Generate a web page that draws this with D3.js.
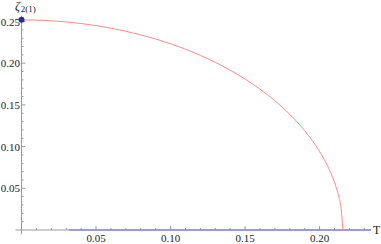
<!DOCTYPE html>
<html>
<head>
<meta charset="utf-8">
<script src="https://cdn.jsdelivr.net/npm/d3@7"></script>
<style>
  body { margin: 0; background: #fff; }
  text { font-family: "Liberation Serif", "DejaVu Serif", serif; }
</style>
</head>
<body>
<svg id="chart" width="381" height="244"></svg>
<script>
// values
var tVals    = [0, 0.02, 0.04, 0.06, 0.08, 0.10, 0.12, 0.14, 0.16, 0.17, 0.18, 0.19, 0.20, 0.205, 0.21, 0.213, 0.2145, 0.2156];
var zetaVals = [0.252, 0.2509, 0.2476, 0.2420, 0.2340, 0.2233, 0.2094, 0.1916, 0.1689, 0.1550, 0.1387, 0.1191, 0.0941, 0.0780, 0.0571, 0.0390, 0.0255, 0];
var zeroLine = [[0.032, 0], [0.2345, 0]];
var startDot = [0, 0.252];
var xTicks = [0.05, 0.10, 0.15, 0.20];
var yTicks = [0.05, 0.10, 0.15, 0.20, 0.25];

var svg = d3.select("#chart");

var x = d3.scaleLinear().domain([0, 0.2345]).range([21.5, 371]);
var y = d3.scaleLinear().domain([0, 0.25]).range([230, 21.5]);

var axisColor = "#9a9a9a";

// axes lines
svg.append("line")
  .attr("x1", x(-0.004)).attr("x2", x(0.2345))
  .attr("y1", y(0)).attr("y2", y(0))
  .attr("stroke", axisColor).attr("stroke-width", 1);
svg.append("line")
  .attr("x1", x(0)).attr("x2", x(0))
  .attr("y1", y(-0.005)).attr("y2", y(0.257))
  .attr("stroke", axisColor).attr("stroke-width", 1);

function i5(d) { return Math.round(d * 100) % 5 === 0; }

// minor + major ticks, pointing into the plot
var xMinor = d3.range(1, 24).map(function(i) { return i / 100; });
svg.selectAll(".xtick").data(xMinor).enter().append("line")
  .attr("x1", function(d) { return x(d); })
  .attr("x2", function(d) { return x(d); })
  .attr("y1", y(0))
  .attr("y2", function(d) { return y(0) - (i5(d) ? 4 : 2); })
  .attr("stroke", axisColor);

var yMinor = d3.range(1, 26).map(function(i) { return i / 100; });
svg.selectAll(".ytick").data(yMinor).enter().append("line")
  .attr("y1", function(d) { return y(d); })
  .attr("y2", function(d) { return y(d); })
  .attr("x1", x(0))
  .attr("x2", function(d) { return x(0) + (i5(d) ? 4 : 2); })
  .attr("stroke", axisColor);

// tick labels
svg.selectAll(".xlab").data(xTicks).enter().append("text")
  .attr("x", function(d) { return x(d); })
  .attr("y", 242)
  .attr("text-anchor", "middle")
  .attr("font-size", 11)
  .attr("fill", "#222")
  .text(function(d) { return d.toFixed(2); });

svg.selectAll(".ylab").data(yTicks).enter().append("text")
  .attr("x", 20)
  .attr("y", function(d) { return y(d) + 4; })
  .attr("text-anchor", "end")
  .attr("font-size", 11)
  .attr("fill", "#222")
  .text(function(d) { return d.toFixed(2); });

// axis labels
svg.append("text")
  .attr("x", 373).attr("y", 234)
  .attr("font-size", 12)
  .attr("fill", "#222")
  .text("T");

var yl = svg.append("text")
  .attr("x", 15).attr("y", 10)
  .attr("fill", "#222");
yl.append("tspan").attr("font-size", 12).attr("font-style", "italic").text("ζ");
yl.append("tspan").attr("font-size", 9).attr("dy", 2).attr("dx", 1).text("2(1)");

// curves
var line = d3.line()
  .x(function(d) { return x(d[0]); })
  .y(function(d) { return y(d[1]); })
  .curve(d3.curveMonotoneX);

var redData = tVals.map(function(t, i) { return [t, zetaVals[i]]; });

svg.append("path")
  .datum(zeroLine)
  .attr("d", d3.line().x(function(d) { return x(d[0]); }).y(function(d) { return y(d[1]); }))
  .attr("fill", "none")
  .attr("stroke", "#6b6be6")
  .attr("stroke-width", 1);

svg.append("path")
  .datum(redData)
  .attr("d", line)
  .attr("fill", "none")
  .attr("stroke", "#ff8a8a")
  .attr("stroke-width", 1);

svg.append("circle")
  .attr("cx", x(startDot[0]))
  .attr("cy", y(startDot[1]))
  .attr("r", 3)
  .attr("fill", "#2d2d8f");
</script>
</body>
</html>
